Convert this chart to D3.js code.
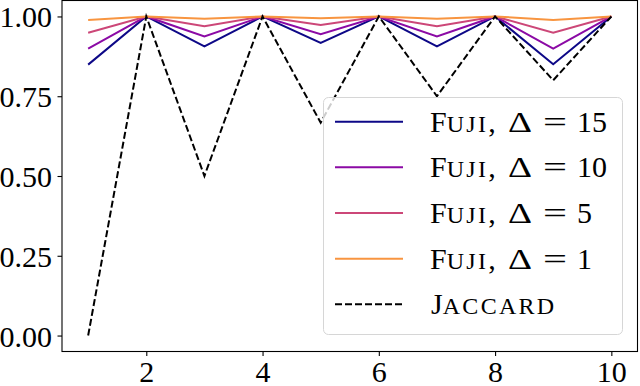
<!DOCTYPE html>
<html>
<head>
<meta charset="utf-8">
<script src="https://cdn.jsdelivr.net/npm/d3@7"></script>
<style>
  html, body { margin: 0; padding: 0; background: #fff; }
  svg { display: block; }
  text { font-family: "Liberation Serif", "Times New Roman", serif; fill: #000; }
</style>
</head>
<body>
<svg id="chart" width="640" height="386"></svg>
<script>
// ---- data ----
const xValues = [1, 2, 3, 4, 5, 6, 7, 8, 9, 10];
const fuji15 = [0.849, 1, 0.906, 1, 0.917, 1, 0.906, 1, 0.850, 1];
const fuji10 = [0.899, 1, 0.937, 1, 0.944, 1, 0.937, 1, 0.899, 1];
const fuji5  = [0.949, 1, 0.969, 1, 0.973, 1, 0.969, 1, 0.949, 1];
const fuji1  = [0.989, 1, 0.993, 1, 0.994, 1, 0.993, 1, 0.989, 1];
const jaccard = [0.0, 1, 0.5, 1, 0.667, 1, 0.75, 1, 0.8, 1];
const xTicks = [2, 4, 6, 8, 10];
const yTicks = [0.00, 0.25, 0.50, 0.75, 1.00];
const seriesNames = ["Fuji15", "Fuji10", "Fuji5", "Fuji1", "Jaccard"];
const legendDeltas = ["15", "10", "5", "1"];

const series = [
  { name: seriesNames[0], values: fuji15, color: "#0d0887", dash: null, delta: legendDeltas[0] },
  { name: seriesNames[1], values: fuji10, color: "#8b0aa5", dash: null, delta: legendDeltas[1] },
  { name: seriesNames[2], values: fuji5,  color: "#cc4778", dash: null, delta: legendDeltas[2] },
  { name: seriesNames[3], values: fuji1,  color: "#f89540", dash: null, delta: legendDeltas[3] },
  { name: seriesNames[4], values: jaccard, color: "#000000", dash: "7,3", delta: null }
];

const svg = d3.select("#chart");
const mLeft = 62, mRight = 637.5, mTop = 0.5, mBottom = 351.5;
const FS = 30;
const SC = 24; // small-caps size

const x = d3.scaleLinear().domain([0.55, 10.45]).range([mLeft, mRight]);
const y = d3.scaleLinear().domain([-0.05, 1.05]).range([mBottom, mTop]);

// lines
const line = d3.line().x((d, i) => x(xValues[i])).y(d => y(d));
series.forEach(s => {
  svg.append("path")
    .datum(s.values)
    .attr("d", line)
    .attr("fill", "none")
    .attr("stroke", s.color)
    .attr("stroke-width", 2)
    .attr("stroke-dasharray", s.dash)
    .attr("stroke-linejoin", "miter");
});

// axes
const xAxis = d3.axisBottom(x).tickValues(xTicks).tickSize(4.5).tickPadding(6).tickFormat(d3.format("d"));
const yAxis = d3.axisLeft(y).tickValues(yTicks).tickSize(4.5).tickPadding(5.5).tickFormat(d3.format(".2f"));

const gx = svg.append("g").attr("transform", `translate(0,${mBottom})`).call(xAxis);
const gy = svg.append("g").attr("transform", `translate(${mLeft},0)`).call(yAxis);
[gx, gy].forEach(g => {
  g.select(".domain").remove();
  g.selectAll(".tick line").attr("stroke", "#000").attr("stroke-width", 1.1);
  g.selectAll(".tick text").attr("font-size", FS).attr("font-family", "Liberation Serif").attr("fill", "#000");
});
gx.selectAll(".tick text").attr("dy", null).attr("y", 30);
gy.selectAll(".tick text").attr("dy", "0.35em");

// frame
svg.append("rect")
  .attr("x", mLeft).attr("y", mTop)
  .attr("width", mRight - mLeft).attr("height", mBottom - mTop)
  .attr("fill", "none").attr("stroke", "#000").attr("stroke-width", 1.1);

// legend
const lg = svg.append("g");
lg.append("rect")
  .attr("x", 323.5).attr("y", 97.5).attr("width", 299).attr("height", 237)
  .attr("rx", 5).attr("ry", 5)
  .attr("fill", "#fff").attr("fill-opacity", 0.8)
  .attr("stroke", "#d6d6d6").attr("stroke-width", 1);

const rowY = d3.scaleLinear().domain([0, 4]).range([121.7, 304.3]);
series.forEach((s, i) => {
  const cy = rowY(i);
  lg.append("line")
    .attr("x1", 335).attr("x2", 403).attr("y1", cy).attr("y2", cy)
    .attr("stroke", s.color).attr("stroke-width", 2)
    .attr("stroke-dasharray", s.dash);
  const by = cy + 10;
  if (s.delta !== null) {
    const t = lg.append("text").attr("x", 430).attr("y", by).attr("font-size", FS);
    t.append("tspan").text("F");
    t.append("tspan").attr("font-size", SC).attr("letter-spacing", 2.3).text("UJI");
    t.append("tspan").text(",");
    lg.append("text").attr("x", 508).attr("y", by).attr("font-size", FS)
      .attr("textLength", 24).attr("lengthAdjust", "spacingAndGlyphs").text("Δ");
    lg.append("text").attr("x", 543).attr("y", by).attr("font-size", FS)
      .attr("textLength", 24).attr("lengthAdjust", "spacingAndGlyphs").text("=");
    lg.append("text").attr("x", 577).attr("y", by).attr("font-size", FS).text(s.delta);
  } else {
    const t = lg.append("text").attr("x", 431).attr("y", by).attr("font-size", FS);
    t.append("tspan").text("J");
    t.append("tspan").attr("font-size", SC).attr("letter-spacing", 2.3).text("ACCARD");
  }
});
</script>
</body>
</html>
